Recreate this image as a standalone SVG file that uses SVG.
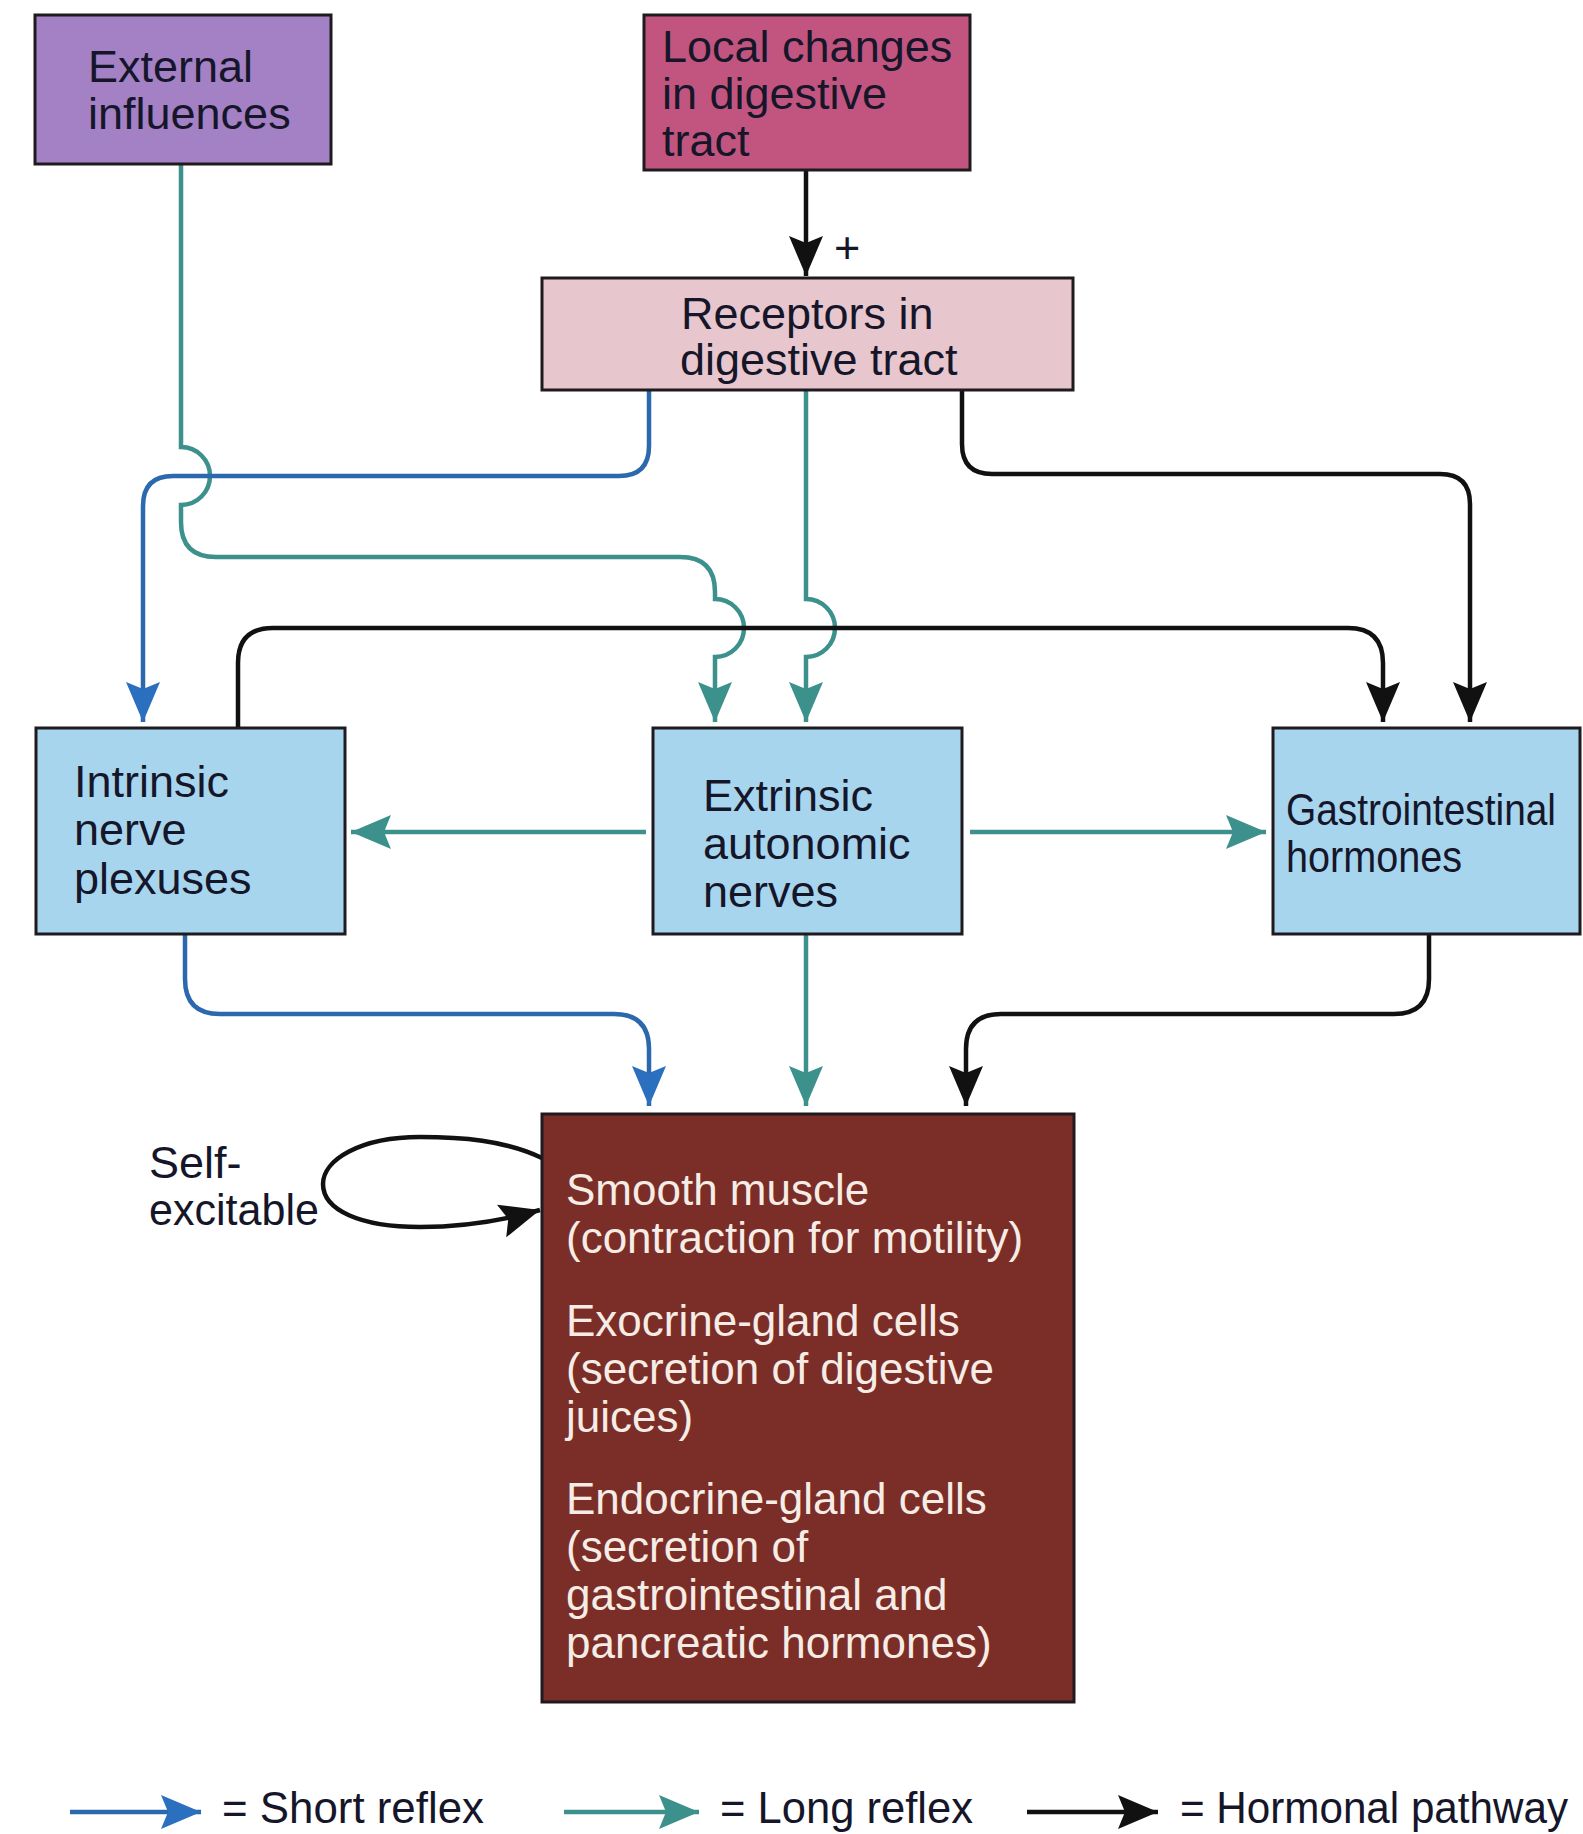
<svg xmlns="http://www.w3.org/2000/svg" width="1583" height="1834" viewBox="0 0 1583 1834">
<style>
  .box { stroke: #1e1a1e; stroke-width: 3; }
  .t { font-family: "Liberation Sans", Arial, sans-serif; font-size: 45px; fill: #16162a; }
  .tw { font-family: "Liberation Sans", Arial, sans-serif; font-size: 44px; fill: #f6ece6; }
  .teal { fill: none; stroke: #3c918c; stroke-width: 4.5; }
  .blue { fill: none; stroke: #2b68ad; stroke-width: 4.5; }
  .black { fill: none; stroke: #111111; stroke-width: 4.5; }
</style>
<defs>
  <marker id="aTeal" markerUnits="userSpaceOnUse" markerWidth="42" markerHeight="36" refX="40" refY="17" orient="auto" viewBox="0 0 42 36">
    <path d="M0,0 L40,17 L0,34 L7,17 z" fill="#3c918c"/>
  </marker>
  <marker id="aBlue" markerUnits="userSpaceOnUse" markerWidth="42" markerHeight="36" refX="40" refY="17" orient="auto" viewBox="0 0 42 36">
    <path d="M0,0 L40,17 L0,34 L7,17 z" fill="#2b6fbf"/>
  </marker>
  <marker id="aBlack" markerUnits="userSpaceOnUse" markerWidth="42" markerHeight="36" refX="40" refY="17" orient="auto" viewBox="0 0 42 36">
    <path d="M0,0 L40,17 L0,34 L7,17 z" fill="#111111"/>
  </marker>
</defs>
<rect width="1583" height="1834" fill="#ffffff"/>

<g id="connectors">
  <!-- Local changes -> Receptors -->
  <path class="black" d="M806,170 V276" marker-end="url(#aBlack)"/>
  <!-- External influences -> Extrinsic (long reflex) -->
  <path class="teal" d="M181,164 V447 A29,29 0 0 1 181,505 V522 Q181,557 216,557 H680 Q715,557 715,592 V599 A29,29 0 0 1 715,657 V722" marker-end="url(#aTeal)"/>
  <!-- Receptors -> Intrinsic (short reflex) -->
  <path class="blue" d="M649,390 V446 Q649,476 619,476 H173 Q143,476 143,506 V722" marker-end="url(#aBlue)"/>
  <!-- Receptors -> Extrinsic (long reflex) -->
  <path class="teal" d="M806,390 V599 A29,29 0 0 1 806,657 V722" marker-end="url(#aTeal)"/>
  <!-- Receptors -> GI hormones (hormonal) -->
  <path class="black" d="M962,390 V444 Q962,474 992,474 H1440 Q1470,474 1470,504 V722" marker-end="url(#aBlack)"/>
  <!-- Intrinsic -> GI hormones (hormonal) -->
  <path class="black" d="M238,728 V663 Q238,628 273,628 H1348 Q1383,628 1383,663 V722" marker-end="url(#aBlack)"/>
  <!-- Extrinsic -> Intrinsic -->
  <path class="teal" d="M646,832 H351" marker-end="url(#aTeal)"/>
  <!-- Extrinsic -> GI hormones -->
  <path class="teal" d="M970,832 H1266" marker-end="url(#aTeal)"/>
  <!-- Intrinsic -> Effectors -->
  <path class="blue" d="M185,934 V979 Q185,1014 220,1014 H614 Q649,1014 649,1049 V1106" marker-end="url(#aBlue)"/>
  <!-- Extrinsic -> Effectors -->
  <path class="teal" d="M806,934 V1106" marker-end="url(#aTeal)"/>
  <!-- GI hormones -> Effectors -->
  <path class="black" d="M1429,934 V979 Q1429,1014 1394,1014 H1001 Q966,1014 966,1049 V1106" marker-end="url(#aBlack)"/>
  <!-- Self-excitable loop -->
  <path class="black" d="M542,1158 C505,1140 460,1137 420,1137 C360,1137 323,1160 323,1184 C323,1210 360,1227 420,1227 C465,1227 505,1220 540,1210" marker-end="url(#aBlack)"/>
</g>

<text class="t" x="834" y="263" font-size="46">+</text>

<g id="external">
  <rect class="box" x="35" y="15" width="296" height="149" fill="#a381c4"/>
  <text class="t" x="88" y="82">External</text>
  <text class="t" x="88" y="129">influences</text>
</g>

<g id="local">
  <rect class="box" x="644" y="15" width="326" height="155" fill="#c2557f"/>
  <text class="t" x="662" y="62">Local changes</text>
  <text class="t" x="662" y="109">in digestive</text>
  <text class="t" x="662" y="156">tract</text>
</g>

<g id="receptors">
  <rect class="box" x="542" y="278" width="531" height="112" fill="#e8c6cd"/>
  <text class="t" x="681" y="329">Receptors in</text>
  <text class="t" x="680" y="375">digestive tract</text>
</g>

<g id="intrinsic">
  <rect class="box" x="36" y="728" width="309" height="206" fill="#a7d5ee"/>
  <text class="t" x="74" y="797">Intrinsic</text>
  <text class="t" x="74" y="845">nerve</text>
  <text class="t" x="74" y="894">plexuses</text>
</g>

<g id="extrinsic">
  <rect class="box" x="653" y="728" width="309" height="206" fill="#a7d5ee"/>
  <text class="t" x="703" y="811">Extrinsic</text>
  <text class="t" x="703" y="859">autonomic</text>
  <text class="t" x="703" y="907">nerves</text>
</g>

<g id="gihormones">
  <rect class="box" x="1273" y="728" width="307" height="206" fill="#a7d5ee"/>
  <text class="t" x="1286" y="825" font-size="40" textLength="270" lengthAdjust="spacingAndGlyphs">Gastrointestinal</text>
  <text class="t" x="1286" y="872" font-size="40" textLength="176" lengthAdjust="spacingAndGlyphs">hormones</text>
</g>

<g id="effectors">
  <rect class="box" x="542" y="1114" width="532" height="588" fill="#7b2e27"/>
  <text class="tw" x="566" y="1205">Smooth muscle</text>
  <text class="tw" x="566" y="1253">(contraction for motility)</text>
  <text class="tw" x="566" y="1336">Exocrine-gland cells</text>
  <text class="tw" x="566" y="1384">(secretion of digestive</text>
  <text class="tw" x="566" y="1432">juices)</text>
  <text class="tw" x="566" y="1514">Endocrine-gland cells</text>
  <text class="tw" x="566" y="1562">(secretion of</text>
  <text class="tw" x="566" y="1610">gastrointestinal and</text>
  <text class="tw" x="566" y="1658">pancreatic hormones)</text>
</g>

<g id="selfexcitable">
  <text class="t" x="149" y="1178" font-size="43">Self-</text>
  <text class="t" x="149" y="1225" font-size="43" textLength="170" lengthAdjust="spacingAndGlyphs">excitable</text>
</g>

<g id="legend">
  <path class="blue" d="M70,1812 H201" stroke-width="5" marker-end="url(#aBlue)"/>
  <text class="t" x="222" y="1823" font-size="45" textLength="262" lengthAdjust="spacingAndGlyphs">= Short reflex</text>
  <path class="teal" d="M564,1812 H699" stroke-width="5" marker-end="url(#aTeal)"/>
  <text class="t" x="720" y="1823" font-size="45" textLength="253" lengthAdjust="spacingAndGlyphs">= Long reflex</text>
  <path class="black" d="M1027,1812 H1158" stroke-width="5" marker-end="url(#aBlack)"/>
  <text class="t" x="1180" y="1823" font-size="42" textLength="388" lengthAdjust="spacingAndGlyphs">= Hormonal pathway</text>
</g>
</svg>
